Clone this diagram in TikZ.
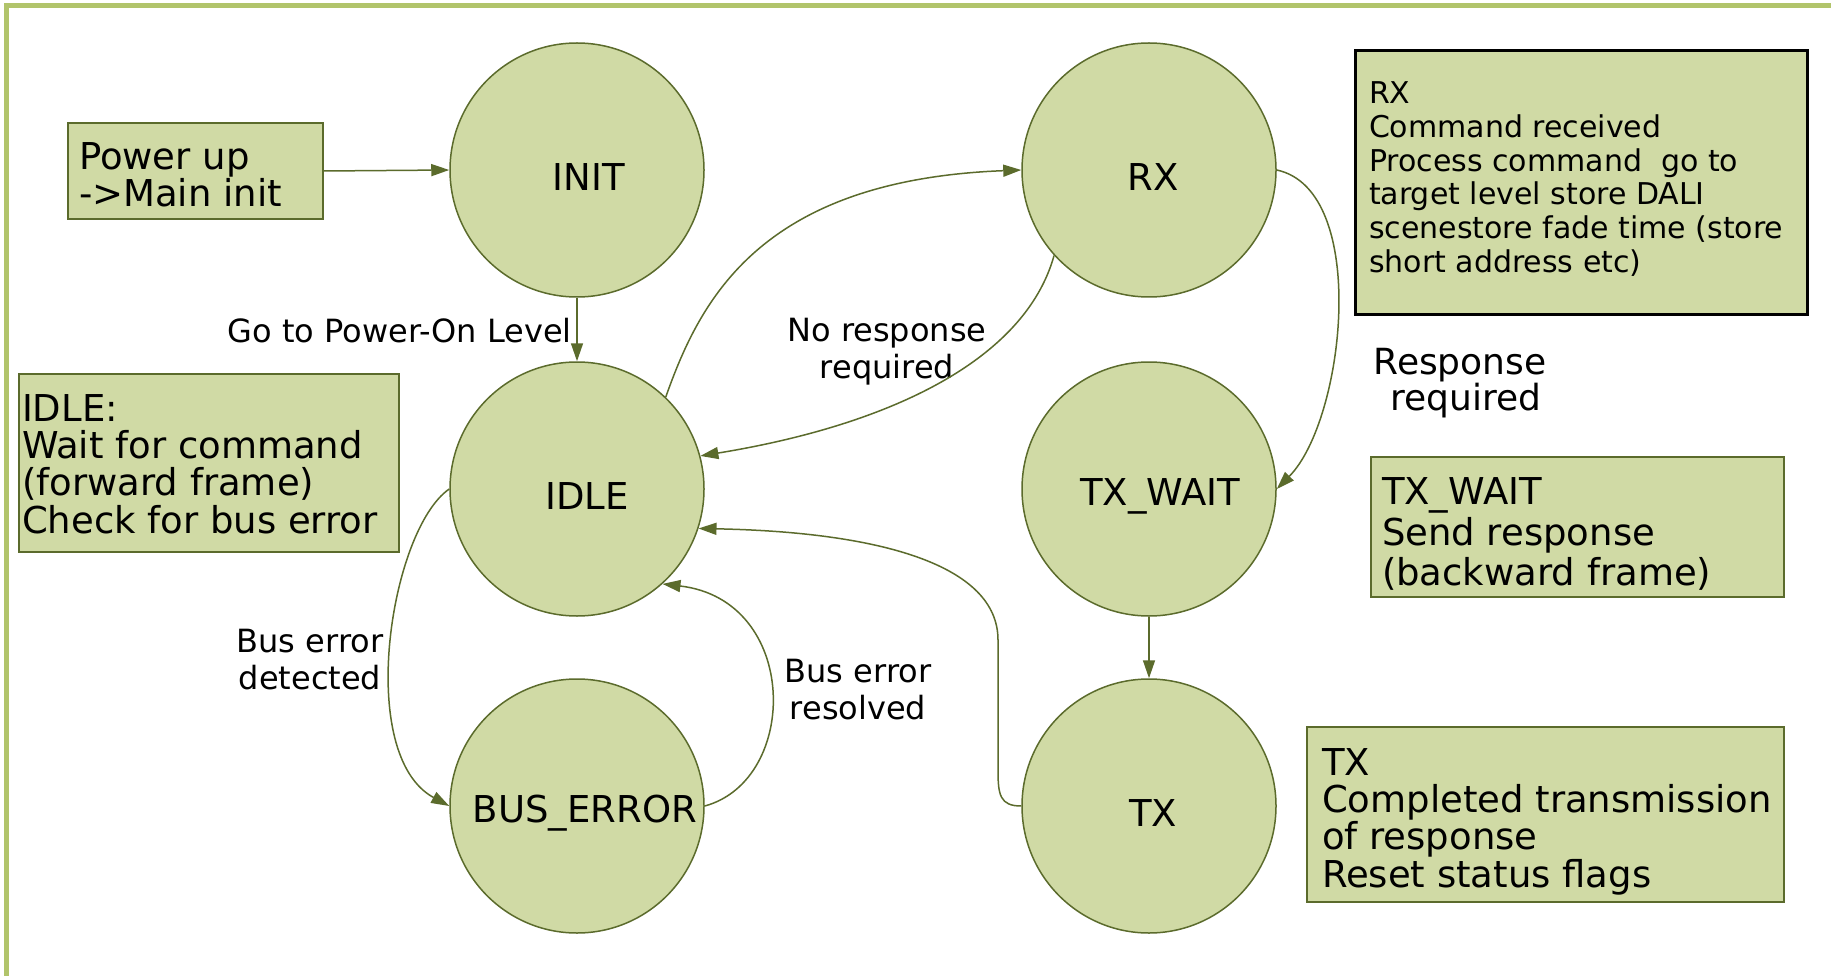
\documentclass[tikz,border=0pt]{standalone}
\usepackage{fontspec}
\setmainfont{DejaVu Sans}
\usetikzlibrary{arrows.meta}
\definecolor{fillg}{HTML}{D0DAA5}
\definecolor{edgeg}{HTML}{5B6B2C}
\definecolor{frameg}{HTML}{B1C46B}
\newcommand\stt[2]{\raisebox{-7.5pt}[\height][\depth]{\kern#1pt #2}}
\newcommand\shiftbox[3]{\raisebox{-#1pt}[\height][\depth]{\parbox{#2pt}{\raggedright #3}}}
\begin{document}
\begin{tikzpicture}[x=1pt,y=-1pt,
  state/.style={circle, draw=edgeg, line width=1.5pt, fill=fillg, minimum size=254pt, inner sep=0pt, font=\fontsize{37}{40}\selectfont},
  note/.style={rectangle, draw=edgeg, line width=1.5pt, fill=fillg, inner sep=0pt},
  big/.style={font=\fontsize{37}{37.3}\selectfont},
  arr/.style={draw=edgeg, line width=1.5pt, -{Triangle[length=18pt,width=12pt]}},
  lbl/.style={inner sep=0pt, font=\fontsize{32}{37}\selectfont, align=center}]
\useasboundingbox (0,0) rectangle (1831,976);
\fill[white] (0,0) rectangle (1831,976);
\draw[frameg, line width=5pt] (6,976) -- (6,6) -- (1831,6);

% states
\node[state] (init) at (577,170) {\stt{24}{INIT}};
\node[state] (idle) at (577,489) {\stt{20}{IDLE}};
\node[state] (bus)  at (577,806) {\stt{16}{BUS\_ERROR}};
\node[state] (rx)   at (1149,170) {\stt{8}{RX}};
\node[state] (txw)  at (1149,489) {\stt{22}{TX\_WAIT}};
\node[state] (tx)   at (1149,806) {\stt{8}{TX}};

% notes
\node[note, big, minimum width=255pt, minimum height=96pt] (pwr) at (195.5,171)
  {\shiftbox{4}{233}{Power up\\->Main init}};
\node[note, big, minimum width=380pt, minimum height=178pt] (idlenote) at (209,463)
  {\shiftbox{1}{374}{IDLE:\\Wait for command\\(forward frame)\\Check for bus error}};
\node[note, draw=black, line width=3pt, font=\fontsize{30}{33.8}\selectfont, minimum width=452pt, minimum height=264pt] (rxnote) at (1581,183)
  {\shiftbox{-4}{424}{RX\\Command received\\Process command\ \ go to\\target level store DALI\\\mbox{scenestore fade time (store}\\short address etc)}};
\node[note, font=\fontsize{37}{40.5}\selectfont, minimum width=413pt, minimum height=140pt] (txwnote) at (1577.5,527)
  {\shiftbox{7}{391}{TX\_WAIT\\Send response\\(backward frame)}};
\node[note, big, minimum width=477pt, minimum height=175pt] (txnote) at (1545.5,814.5)
  {\shiftbox{7}{447}{TX\\\mbox{Completed transmission}\\of response\\Reset status flags}};

% labels
\node[lbl, anchor=base east] (lgo) at (572,342) {Go to Power-On Level};
\node[lbl] (lnoresp) at (887,352) {No response\\required};
\node[lbl, font=\fontsize{36}{36}\selectfont] (lresp) at (1460,383) {Response\\\ required};
\node[lbl] (ldet) at (310,660) {Bus error\\detected};
\node[lbl] (lres) at (858,690) {Bus error\\resolved};

% connectors
\draw[arr] (pwr.east) -- (init.west);
\draw[arr] (init.south) -- (idle.north);
\draw[arr] (idle.46) .. controls (700,300) and (760,180) .. (rx.west);
\draw[arr] (rx.222) .. controls (1025,360) and (890,425) .. (idle.15);
\draw[arr] (rx.east) .. controls (1370,190) and (1345,420) .. (txw.east);
\draw[arr] (txw.south) -- (tx.north);
\draw[arr] (tx.west) .. controls (1000,806) and (998,795) .. (998,770) -- (998,640) .. controls (998,565) and (880,532) .. (idle.-18);
\draw[arr] (idle.west) .. controls (390,530) and (355,755) .. (bus.west);
\draw[arr] (bus.east) .. controls (800,780) and (800,600) .. (idle.-48);
\end{tikzpicture}
\end{document}
